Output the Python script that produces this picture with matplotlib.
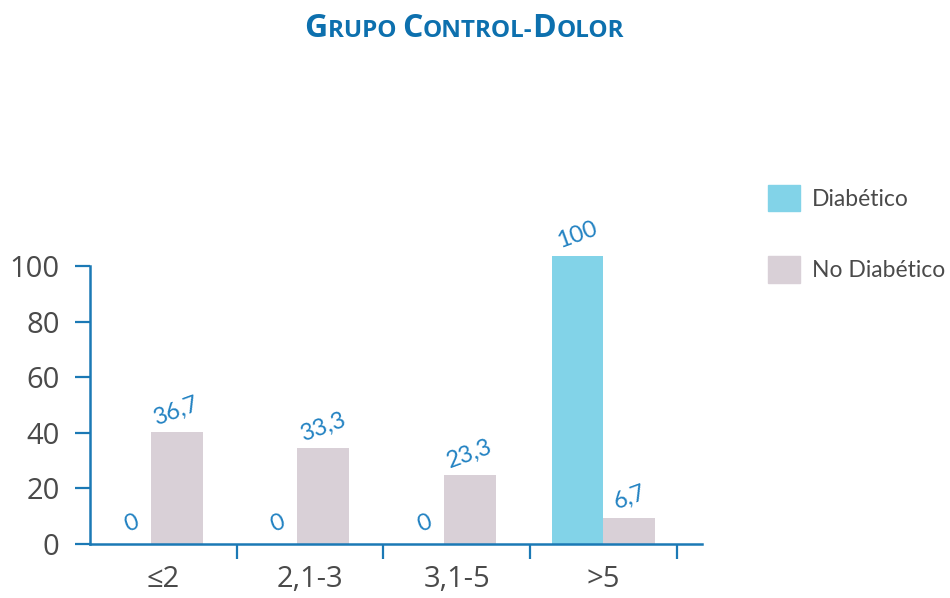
import numpy as np
import matplotlib.pyplot as plt
from matplotlib.patches import Patch

# values (bar heights as drawn, labels as printed)
categories = ["≤2", "2,1-3", "3,1-5", ">5"]
diabetico = [0, 0, 0, 103.7]
no_diabetico = [40.3, 34.5, 24.8, 9.4]
diabetico_lbl = ["0", "0", "0", "100"]
no_diabetico_lbl = ["36,7", "33,3", "23,3", "6,7"]
series = ["Diabético", "No Diabético"]
yticks = [0, 20, 40, 60, 80, 100]

AXIS_BLUE = "#1b79b5"
LBL_BLUE = "#2282c2"
C_DIAB = "#82d3e8"
C_NODIAB = "#d9d0d7"
GREY = "#4a4a4a"
NARROW = ["Lato", "DejaVu Sans"]
BODY = ["Open Sans", "DejaVu Sans"]

fig = plt.figure(figsize=(9.5, 5.98), dpi=100)
ax = fig.add_axes([90 / 950, 54 / 598, 612 / 950, 278 / 598])

d = np.array(diabetico)
n = np.array(no_diabetico)
x = np.arange(len(categories)) + 0.5
w = 0.354
# when the first series is empty the second bar sits closer to the centre
off_d = np.where(d > 0, -w / 2, -0.22)
off_n = np.where(d > 0, w / 2, 0.09)

ax.bar(x + off_d, d, w, color=C_DIAB, clip_on=False, zorder=2)
ax.bar(x + off_n, n, w, color=C_NODIAB, clip_on=False, zorder=2)

for xs, hs, lbls in [(x + off_d, d, diabetico_lbl), (x + off_n, n, no_diabetico_lbl)]:
    for xi, hi, lb in zip(xs, hs, lbls):
        ax.annotate(lb, (xi, hi), xytext=(0, 15), textcoords="offset points",
                    ha="center", va="center", rotation=20, color=LBL_BLUE,
                    fontsize=17, family=NARROW, annotation_clip=False)

ax.set_xlim(0, 612 / 146.7)
ax.set_ylim(0, 100)
for s in ["top", "right"]:
    ax.spines[s].set_visible(False)
for s in ["left", "bottom"]:
    ax.spines[s].set_color(AXIS_BLUE)
    ax.spines[s].set_linewidth(1.8)

ax.set_yticks(yticks)
ax.set_yticklabels([str(v) for v in yticks], family=BODY)
ax.tick_params(axis="y", direction="out", length=10.8, width=1.6,
               color=AXIS_BLUE, labelcolor=GREY, labelsize=21, pad=11)

ax.set_xticks(np.arange(1, len(categories) + 1))
ax.set_xticklabels([])
ax.set_xticks(x, minor=True)
ax.set_xticklabels(categories, minor=True, family=BODY)
ax.tick_params(axis="x", which="major", direction="out", length=10.8,
               width=1.6, color=AXIS_BLUE)
ax.tick_params(axis="x", which="minor", length=0, labelcolor=GREY,
               labelsize=21, pad=15)

handles = [Patch(color=C_DIAB), Patch(color=C_NODIAB)]
leg = fig.legend(handles, series, loc="upper left",
                 bbox_to_anchor=(768 / 950, 1 - 185 / 598), frameon=False,
                 borderpad=0, borderaxespad=0, handlelength=1.4,
                 handleheight=1.4, handletextpad=0.5, labelspacing=1.95,
                 prop={"family": NARROW, "size": 16.5})
for t in leg.get_texts():
    t.set_color(GREY)

# small-caps title built piece by piece
pieces = [("G", 23), ("RUPO ", 17.5), ("C", 23), ("ONTROL-", 17.5),
          ("D", 23), ("OLOR", 17.5)]
renderer = fig.canvas.get_renderer()
texts = []
xpos = 0
for s, fs in pieces:
    t = fig.text(xpos, 1 - 37 / 598, s, fontsize=fs, fontweight="bold",
                 color="#0d70ae", family=BODY, va="baseline", ha="left")
    bb = t.get_window_extent(renderer)
    texts.append((t, xpos))
    xpos += bb.width / 950
shift = 464 / 950 - xpos / 2
for t, x0 in texts:
    t.set_x(x0 + shift)

fig.savefig("out.png", dpi=100)
